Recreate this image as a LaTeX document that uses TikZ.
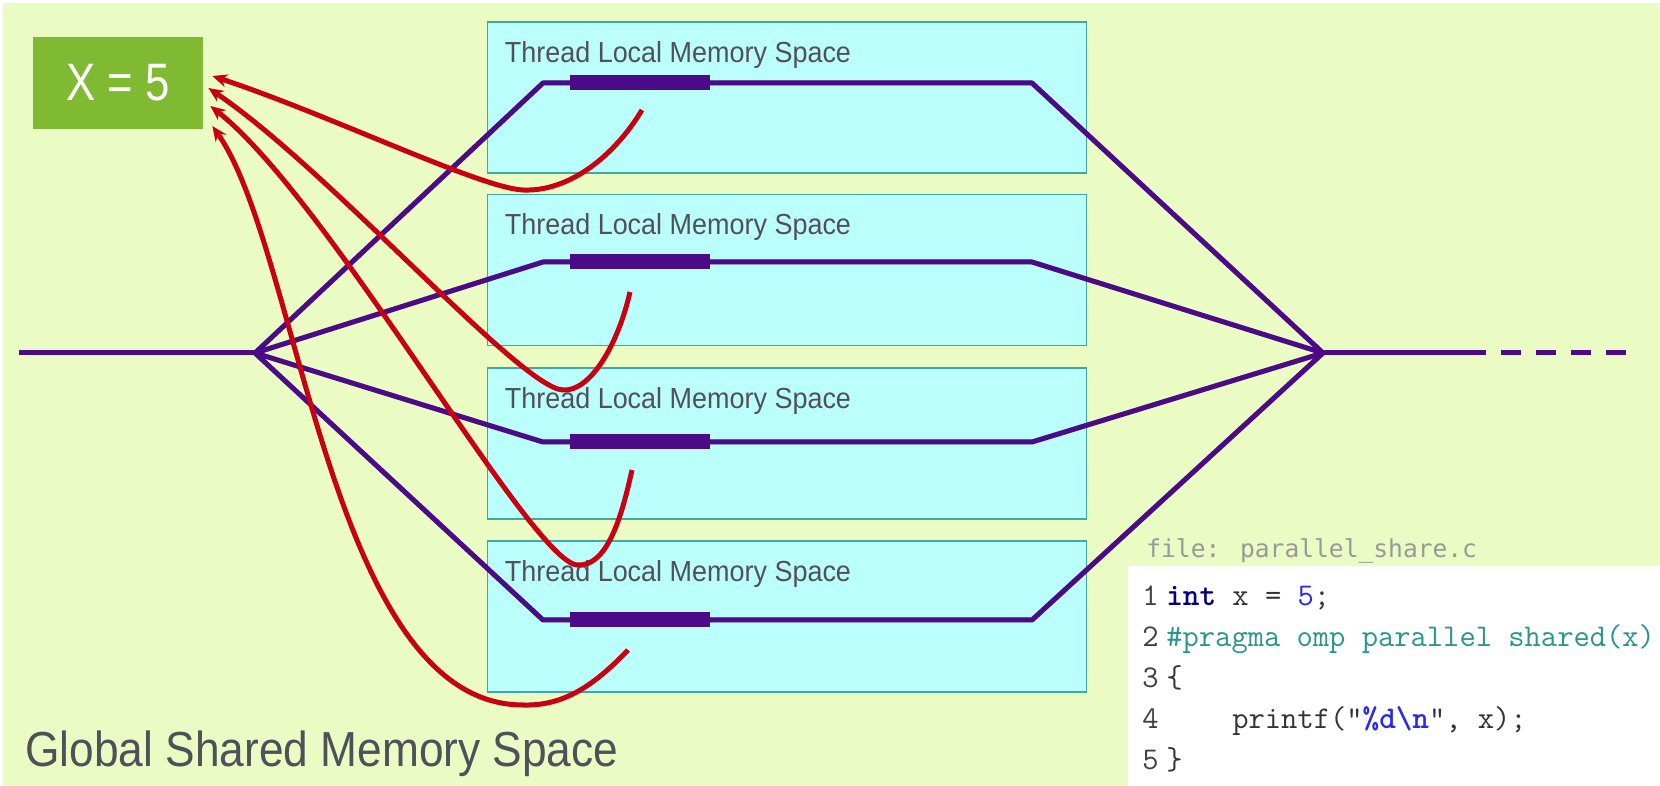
\documentclass[tikz,border=0pt]{standalone}
\usepackage{fontspec}
\setmainfont{Liberation Sans}
\newfontfamily\filefont{DejaVu Sans Mono}
\usetikzlibrary{arrows.meta,calc}
\definecolor{bggreen}{RGB}{234,252,196}
\definecolor{boxgreen}{RGB}{128,186,50}
\definecolor{localcyan}{RGB}{187,255,253}
\definecolor{localedge}{RGB}{64,170,160}
\definecolor{threadpurple}{RGB}{75,10,135}
\definecolor{accessred}{RGB}{200,0,18}
\definecolor{labelgray}{RGB}{80,80,88}
\definecolor{kwnavy}{RGB}{0,0,128}
\definecolor{numblue}{RGB}{40,40,240}
\definecolor{pragmateal}{RGB}{40,150,140}
\tikzset{
  thread/.style={threadpurple, line width=0.1cm, line join=round},
  workbar/.style={threadpurple, line width=0.3cm},
  access/.style={accessred, line width=0.1cm, -{Stealth[length=0.3cm,width=0.26cm]}},
  localbox/.style={draw=localedge, fill=localcyan, line width=0.6pt,
    minimum width=12cm, minimum height=3.02cm, inner sep=0},
  localtitle/.style={anchor=base west, inner sep=0, text=labelgray,
    font=\fontsize{16.5}{16.5}\selectfont},
  codeline/.style={anchor=base west, inner sep=0, text=black!80,
    font=\ttfamily\fontsize{18}{18}\selectfont},
}
\begin{document}
\begin{tikzpicture}[x=0.02cm,y=-0.02cm]
\useasboundingbox (0,0) rectangle (1660,786);
\fill[bggreen] (3,3) rectangle (1660,786);

% thread local memory
\foreach \i/\yc in {1/97.5,2/270,3/443.5,4/616.5} {
  \node[localbox] (tbox\i) at (787,\yc) {};
  \node[localtitle] (ttitle\i) at ($(tbox\i.north west)+(18,41)$) {\scalebox{0.93}[1]{Thread Local Memory Space}};
}

% master thread, fork and join
\coordinate (start) at (19,353);
\coordinate (fork) at (255,353);
\coordinate (join) at (1323,353);
\coordinate (solidend) at (1486,353);
\coordinate (dashstart) at (1501,353);
\coordinate (dashend) at (1626,353);
\foreach \i/\ty in {1/83,2/262,3/442,4/620} {
  \coordinate (in\i) at (543,\ty);
  \coordinate (out\i) at (1032,\ty);
  \coordinate (barl\i) at (570,\ty);
  \coordinate (barr\i) at (710,\ty);
}
% soft shadow under the threads
\begin{scope}[xshift=1.5pt, yshift=-2pt, opacity=0.22]
  \foreach \i in {1,...,4} {
    \draw[thread, black] (fork) -- (in\i) -- (out\i) -- (join);
    \draw[workbar, black] (barl\i) -- (barr\i);
  }
  \draw[thread, black] (start) -- (fork);
  \draw[thread, black] (join) -- (solidend);
  \draw[thread, black, dash pattern=on 0.4cm off 0.3cm] (dashstart) -- (dashend);
\end{scope}
\foreach \i in {1,...,4} {
  \draw[thread] (fork) -- (in\i) -- (out\i) -- (join);
  \draw[workbar] (barl\i) -- (barr\i);
}
\draw[thread] (start) -- (fork);
\draw[thread] (join) -- (solidend);
\draw[thread, dash pattern=on 0.4cm off 0.3cm] (dashstart) -- (dashend);

% shared variable
\node[fill=boxgreen, minimum width=3.4cm, minimum height=1.84cm, inner sep=0,
  text=white, font=\fontsize{30}{30}\selectfont] (xval) at (118,83) {\scalebox{0.83}[1]{X = 5}};

% reads of x
\coordinate (read1) at (642,110);
\coordinate (read2) at (630,292);
\coordinate (read3) at (632,470);
\coordinate (read4) at (628,650);
\draw[access] (read1) .. controls (615,155) and (570,192) .. (523,190)
  .. controls (480,188) and (330,115) .. ([shift={(9,-7)}]xval.east);
\draw[access] (read2) .. controls (618,345) and (590,392) .. (563,390)
  .. controls (520,388) and (330,170) .. ([shift={(5,5)}]xval.east);
\draw[access] (read3) .. controls (620,525) and (605,567) .. (577,565)
  .. controls (530,560) and (330,200) .. ([shift={(7,23)}]xval.east);
\draw[access] (read4) .. controls (590,690) and (560,706) .. (523,705)
  .. controls (330,705) and (300,250) .. ([shift={(9,43)}]xval.east);

\node[anchor=base west, inner sep=0, text=labelgray, font=\fontsize{28}{28}\selectfont]
  (global) at (25,766) {\scalebox{0.9}[1]{Global Shared Memory Space}};

% source listing
\node[fill=white, inner sep=0, minimum width=10.64cm, minimum height=4.4cm,
  anchor=north west] (codebox) at (1128,566) {};
\node[anchor=base west, inner sep=0, text=black!40, font=\filefont\fontsize{14}{14}\selectfont]
  (fname) at (1146,558) {file: parallel\_share.c};
\foreach \n in {1,...,5}
  \node[codeline, text=black!75] (num\n) at (1142,{606+40.75*(\n-1)}) {\n};
\node[codeline] (code1) at (1166,606) {{\bfseries\color{kwnavy}int} x = {\color{numblue}5};};
\node[codeline, text=pragmateal] (code2) at (1166,647) {\#pragma omp parallel shared(x)};
\node[codeline] (code3) at (1166,687) {\{};
\node[codeline] (code4) at (1232,728) {printf("{\color{numblue}\bfseries\%d\textbackslash n}", x);};
\node[codeline] (code5) at (1166,769) {\}};
\end{tikzpicture}
\end{document}
